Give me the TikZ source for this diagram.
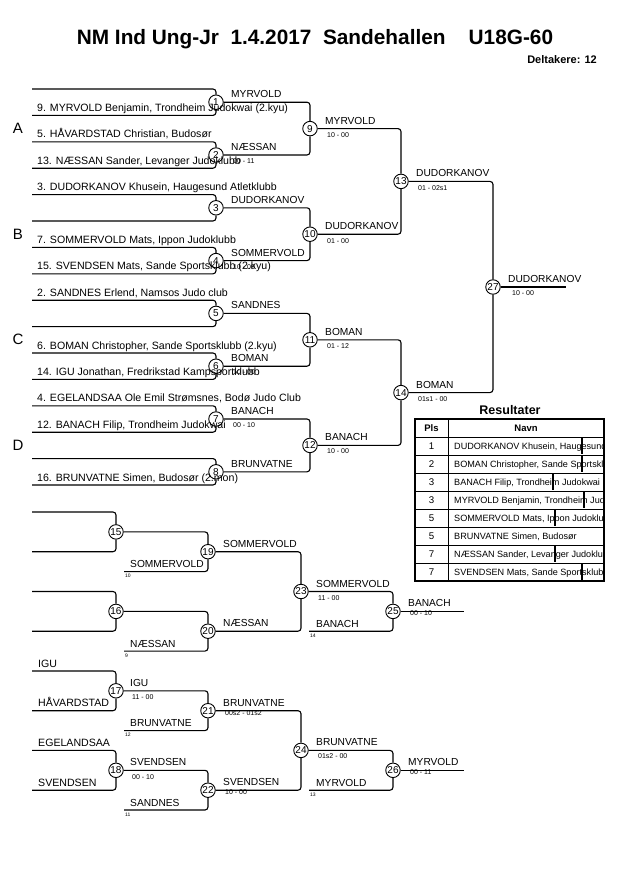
\documentclass[tikz,border=0pt]{standalone}
\usepackage{fontspec}
\setmainfont{Liberation Sans}
\newcommand\WinName[3]{\node[nm] (wn#1) at ([xshift=#3pt,yshift=4.5pt]m#1.center) {#2};}
\newcommand\WinScore[4]{\node[sc] (ws#1) at ([xshift=#3pt,yshift=#4pt]m#1.center) {#2};}
\begin{document}
\begin{tikzpicture}[x=1pt,y=-1pt,
  br/.style={line width=1.1pt, rounded corners=3pt},
  mc/.style={circle, draw, line width=0.9pt, fill=white, minimum size=14.5pt, inner sep=0pt, font=\fontsize{10}{10}\selectfont},
  nm/.style={anchor=base west, inner sep=0pt, font=\fontsize{10.2}{11}\selectfont},
  pn/.style={anchor=base west, inner sep=0pt, font=\fontsize{10.6}{11}\selectfont},
  sc/.style={anchor=north west, inner sep=0pt, font=\fontsize{7}{7}\selectfont},
  seedno/.style={anchor=north west, inner sep=0pt, font=\fontsize{5}{5}\selectfont},
  grp/.style={inner sep=0pt, font=\fontsize{15}{15}\selectfont},
  tb/.style={inner sep=0pt, font=\fontsize{9.7}{10}\selectfont},
  tbn/.style={inner sep=0pt, anchor=base west, font=\fontsize{9.1}{10}\selectfont},
  tbh/.style={inner sep=0pt, font=\bfseries\fontsize{9.5}{10}\selectfont},
]
\useasboundingbox[fill=white] (0,0) rectangle (630,891);

% ---------- title ----------
\node[anchor=base, inner sep=0pt, font=\bfseries\fontsize{20.8}{22}\selectfont] (title) at (315,45) {NM Ind Ung-Jr\ \ 1.4.2017\ \ Sandehallen\ \ \ \ U18G-60};
\node[anchor=base east, inner sep=0pt, font=\bfseries\fontsize{11}{11}\selectfont] (delt) at (597,63.5) {Deltakere: 12};

% ---------- main bracket ----------
\foreach \i in {0,...,15} \coordinate (s\i) at (32,{89+26.4*\i});
\foreach \k in {1,...,8} \node[mc] (m\k) at (216,{102.2+52.8*(\k-1)}) {\k};
\node[mc] (m9) at (310,128.6) {9};
\node[mc] (m10) at (310,234.2) {10};
\node[mc] (m11) at (310,339.8) {11};
\node[mc] (m12) at (310,445.4) {12};
\node[mc] (m13) at (401,181.4) {13};
\node[mc] (m14) at (401,392.6) {14};
\node[mc] (m27) at (493,287) {27};
\coordinate (f27) at (566,287);

\foreach \k in {1,...,8}{
  \pgfmathtruncatemacro\a{2*\k-2}
  \pgfmathtruncatemacro\b{2*\k-1}
  \draw[br] (s\a) -| (m\k);
  \draw[br] (s\b) -| (m\k);
}
\draw[br] (m1) -| (m9);  \draw[br] (m2) -| (m9);
\draw[br] (m3) -| (m10); \draw[br] (m4) -| (m10);
\draw[br] (m5) -| (m11); \draw[br] (m6) -| (m11);
\draw[br] (m7) -| (m12); \draw[br] (m8) -| (m12);
\draw[br] (m9) -| (m13); \draw[br] (m10) -| (m13);
\draw[br] (m11) -| (m14); \draw[br] (m12) -| (m14);
\draw[br] (m13) -| (m27); \draw[br] (m14) -| (m27);
\draw[br] (m27) -- (f27);

% group letters
\node[grp] (gA) at (18,128.5) {A};
\node[grp] (gB) at (18,234.2) {B};
\node[grp] (gC) at (18,339.8) {C};
\node[grp] (gD) at (18,445.4) {D};

% first round players
\node[pn] (p1) at ([xshift=5pt,yshift=4pt]s1) {9. MYRVOLD Benjamin, Trondheim Judokwai (2.kyu)};
\node[pn] (p2) at ([xshift=5pt,yshift=4pt]s2) {5. HÅVARDSTAD Christian, Budosør};
\node[pn] (p3) at ([xshift=5pt,yshift=4pt]s3) {13. NÆSSAN Sander, Levanger Judoklubb};
\node[pn] (p4) at ([xshift=5pt,yshift=4pt]s4) {3. DUDORKANOV Khusein, Haugesund Atletklubb};
\node[pn] (p6) at ([xshift=5pt,yshift=4pt]s6) {7. SOMMERVOLD Mats, Ippon Judoklubb};
\node[pn] (p7) at ([xshift=5pt,yshift=4pt]s7) {15. SVENDSEN Mats, Sande Sportsklubb (2.kyu)};
\node[pn] (p8) at ([xshift=5pt,yshift=4pt]s8) {2. SANDNES Erlend, Namsos Judo club};
\node[pn] (p10) at ([xshift=5pt,yshift=4pt]s10) {6. BOMAN Christopher, Sande Sportsklubb (2.kyu)};
\node[pn] (p11) at ([xshift=5pt,yshift=4pt]s11) {14. IGU Jonathan, Fredrikstad Kampsportklubb};
\node[pn] (p12) at ([xshift=5pt,yshift=4pt]s12) {4. EGELANDSAA Ole Emil Strømsnes, Bodø Judo Club};
\node[pn] (p13) at ([xshift=5pt,yshift=4pt]s13) {12. BANACH Filip, Trondheim Judokwai};
\node[pn] (p15) at ([xshift=5pt,yshift=4pt]s15) {16. BRUNVATNE Simen, Budosør (2.mon)};

% winners main bracket
\WinName{1}{MYRVOLD}{15}
\WinName{2}{NÆSSAN}{15}      \WinScore{2}{00 - 11}{17}{-3}
\WinName{3}{DUDORKANOV}{15}
\WinName{4}{SOMMERVOLD}{15}  \WinScore{4}{10 - 00}{17}{-3.5}
\WinName{5}{SANDNES}{15}
\WinName{6}{BOMAN}{15}       \WinScore{6}{10 - 00}{17}{-3.5}
\WinName{7}{BANACH}{15}      \WinScore{7}{00 - 10}{17}{-3.5}
\WinName{8}{BRUNVATNE}{15}
\WinName{9}{MYRVOLD}{15}     \WinScore{9}{10 - 00}{17}{-3.5}
\WinName{10}{DUDORKANOV}{15} \WinScore{10}{01 - 00}{17}{-4}
\WinName{11}{BOMAN}{15}      \WinScore{11}{01 - 12}{17}{-3.5}
\WinName{12}{BANACH}{15}     \WinScore{12}{10 - 00}{17}{-3.5}
\WinName{13}{DUDORKANOV}{15} \WinScore{13}{01 - 02s1}{17}{-4.5}
\WinName{14}{BOMAN}{15}      \WinScore{14}{01s1 - 00}{17}{-3.5}
\WinName{27}{DUDORKANOV}{15} \WinScore{27}{10 - 00}{19}{-3.5}

% ---------- repechage ----------
\node[mc] (m15) at (116,531.9) {15};
\node[mc] (m16) at (116,611.4) {16};
\node[mc] (m17) at (116,690.8) {17};
\node[mc] (m18) at (116,770.3) {18};
\node[mc] (m19) at (208,551.7) {19};
\node[mc] (m20) at (208,631.2) {20};
\node[mc] (m21) at (208,710.7) {21};
\node[mc] (m22) at (208,790.2) {22};
\node[mc] (m23) at (301,591.5) {23};
\node[mc] (m24) at (301,750.4) {24};
\node[mc] (m25) at (393,611.4) {25};
\node[mc] (m26) at (393,770.3) {26};

\coordinate (q0) at (32,512);
\coordinate (q2) at (32,551.7);
\coordinate (q4) at (32,591.5);
\coordinate (q6) at (32,631.2);
\coordinate (q8) at (32,671);
\coordinate (q10) at (32,710.7);
\coordinate (q12) at (32,750.4);
\coordinate (q14) at (32,790.2);
\coordinate (b19) at (124,571.6);
\coordinate (b20) at (124,651.1);
\coordinate (b21) at (124,730.6);
\coordinate (b22) at (124,810);
\coordinate (b25) at (309,631.2);
\coordinate (b26) at (309,790.2);
\coordinate (e25) at (464,611.4);
\coordinate (e26) at (464,770.3);

\draw[br] (q0) -| (m15);  \draw[br] (q2) -| (m15);
\draw[br] (q4) -| (m16);  \draw[br] (q6) -| (m16);
\draw[br] (q8) -| (m17);  \draw[br] (q10) -| (m17);
\draw[br] (q12) -| (m18); \draw[br] (q14) -| (m18);
\draw[br] (m15) -| (m19); \draw[br] (b19) -| (m19);
\draw[br] (m16) -| (m20); \draw[br] (b20) -| (m20);
\draw[br] (m17) -| (m21); \draw[br] (b21) -| (m21);
\draw[br] (m18) -| (m22); \draw[br] (b22) -| (m22);
\draw[br] (m19) -| (m23); \draw[br] (m20) -| (m23);
\draw[br] (m21) -| (m24); \draw[br] (m22) -| (m24);
\draw[br] (m23) -| (m25); \draw[br] (b25) -| (m25);
\draw[br] (m24) -| (m26); \draw[br] (b26) -| (m26);
\draw[br] (m25) -- (e25);
\draw[br] (m26) -- (e26);

\node[pn] (rq8) at ([xshift=6pt,yshift=4pt]q8) {IGU};
\node[pn] (rq10) at ([xshift=6pt,yshift=4pt]q10) {HÅVARDSTAD};
\node[pn] (rq12) at ([xshift=6pt,yshift=4pt]q12) {EGELANDSAA};
\node[pn] (rq14) at ([xshift=6pt,yshift=4pt]q14) {SVENDSEN};

\node[nm] (rb19) at ([xshift=6pt,yshift=4pt]b19) {SOMMERVOLD};
\node[nm] (rb20) at ([xshift=6pt,yshift=4pt]b20) {NÆSSAN};
\node[nm] (rb21) at ([xshift=6pt,yshift=4pt]b21) {BRUNVATNE};
\node[nm] (rb22) at ([xshift=6pt,yshift=4pt]b22) {SANDNES};
\node[nm] (rb25) at ([xshift=7pt,yshift=4pt]b25) {BANACH};
\node[nm] (rb26) at ([xshift=7pt,yshift=4pt]b26) {MYRVOLD};
\node[seedno] (sd19) at ([xshift=1pt,yshift=-2.5pt]b19) {10};
\node[seedno] (sd20) at ([xshift=1pt,yshift=-2.5pt]b20) {9};
\node[seedno] (sd21) at ([xshift=1pt,yshift=-2.5pt]b21) {12};
\node[seedno] (sd22) at ([xshift=1pt,yshift=-2.5pt]b22) {11};
\node[seedno] (sd25) at ([xshift=1pt,yshift=-2.5pt]b25) {14};
\node[seedno] (sd26) at ([xshift=1pt,yshift=-2.5pt]b26) {13};

\WinName{17}{IGU}{14}          \WinScore{17}{11 - 00}{16}{-3.5}
\WinName{18}{SVENDSEN}{14}     \WinScore{18}{00 - 10}{16}{-4}
\WinName{19}{SOMMERVOLD}{15}
\WinName{20}{NÆSSAN}{15}
\WinName{21}{BRUNVATNE}{15}    \WinScore{21}{00s2 - 01s2}{17}{0}
\WinName{22}{SVENDSEN}{15}     \WinScore{22}{10 - 00}{17}{1}
\WinName{23}{SOMMERVOLD}{15}   \WinScore{23}{11 - 00}{17}{-4}
\WinName{24}{BRUNVATNE}{15}    \WinScore{24}{01s2 - 00}{17}{-3.5}
\WinName{25}{BANACH}{15}       \WinScore{25}{00 - 10}{17}{1}
\WinName{26}{MYRVOLD}{15}      \WinScore{26}{00 - 11}{17}{1}

% ---------- results table ----------
\node[inner sep=0pt, font=\bfseries\fontsize{12.5}{13}\selectfont] (restitle) at (510,410) {Resultater};
\node[tbh] (hpls) at (431.5,428) {Pls};
\node[tbh] (hnavn) at (526,428) {Navn};
\foreach \k/\p in {1/1,2/2,3/3,4/3,5/5,6/5,7/7,8/7}
  \node[tb] (tp\k) at (431.5,{446+18*(\k-1)}) {\p};
\begin{scope}
\clip (448,437) rectangle (604,581);
\node[tbn] (tn1) at (454,449.5) {DUDORKANOV Khusein, Haugesund};
\node[tbn] (tn2) at (454,467.5) {BOMAN Christopher, Sande Sportsklubb};
\node[tbn] (tn3) at (454,485.5) {BANACH Filip, Trondheim Judokwai};
\node[tbn] (tn4) at (454,503.5) {MYRVOLD Benjamin, Trondheim Judokwai};
\node[tbn] (tn5) at (454,521.5) {SOMMERVOLD Mats, Ippon Judoklubb};
\node[tbn] (tn6) at (454,539.5) {BRUNVATNE Simen, Budosør};
\node[tbn] (tn7) at (454,557.5) {NÆSSAN Sander, Levanger Judoklubb};
\node[tbn] (tn8) at (454,575.5) {SVENDSEN Mats, Sande Sportsklubb};
\end{scope}
% stray bars in rows
\draw[line width=1.2pt] (582,438) -- (582,454);
\draw[line width=1.2pt] (582,456) -- (582,472);
\draw[line width=1.2pt] (553,474) -- (553,490);
\draw[line width=1.2pt] (584,492) -- (584,508);
\draw[line width=1.2pt] (555,510) -- (555,526);
\draw[line width=1.2pt] (555,546) -- (555,562);
\draw[line width=1.2pt] (582,564) -- (582,580);
% grid
\foreach \k in {0,...,7} \draw[line width=0.8pt] (415,{437+18*\k}) -- (604,{437+18*\k});
\draw[line width=0.8pt] (448,419) -- (448,581);
\draw[line width=2pt] (415,419) rectangle (604,581);
\end{tikzpicture}
\end{document}
